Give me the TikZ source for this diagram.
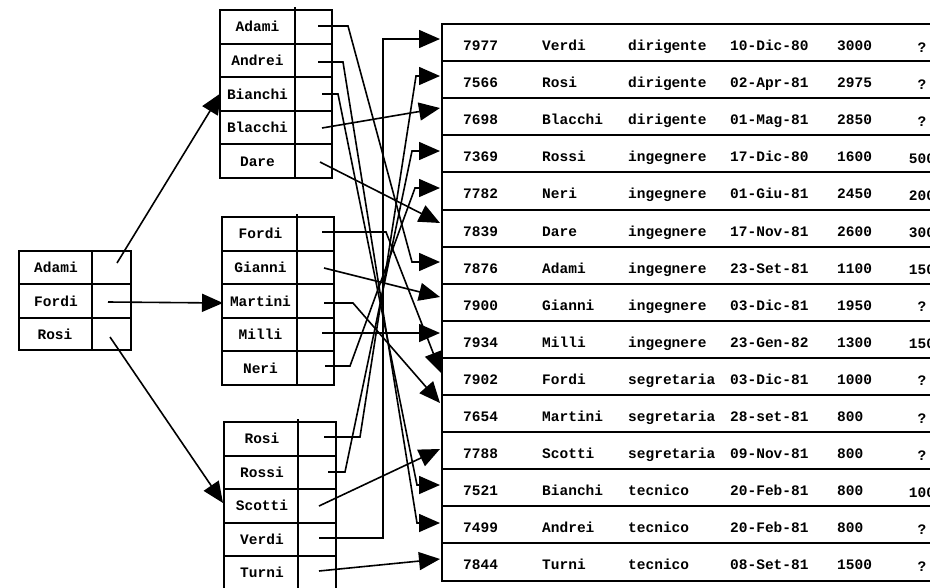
\documentclass[tikz,border=0pt]{standalone}
\usepackage{fontspec}
\setmainfont{Liberation Mono}
\usetikzlibrary{arrows.meta}
\begin{document}
\begin{tikzpicture}[x=1pt,y=-1pt,
  font=\fontsize{14.5}{17}\selectfont\bfseries,
  tbl/.style={line width=2pt},
  link/.style={line width=1.6pt,-{Triangle[length=21pt,width=18pt]}},
  txt/.style={anchor=base,inner sep=0pt},
  rtxt/.style={anchor=base west,inner sep=0pt}]
\clip (0,0) rectangle (930,587);
% ---------- left table ----------
\draw[tbl] (19,251) rectangle (131,350);
\draw[tbl] (92,251)--(92,350);
\draw[tbl] (19,284)--(131,284);
\draw[tbl] (19,318)--(131,318);
\node[txt] (L-Adami) at (56,272.5) {Adami};
\node[txt] (L-Fordi) at (56,306) {Fordi};
\node[txt] (L-Rosi)  at (55,339) {Rosi};
% ---------- middle table 1 ----------
\draw[tbl] (220,10) rectangle (332,178);
\draw[tbl] (295,7)--(295,178);
\foreach \i in {1,...,4} \draw[tbl] (220,{10+33.6*\i})--(332,{10+33.6*\i});
\foreach \n [count=\i from 0] in {Adami,Andrei,Bianchi,Blacchi,Dare}
  \node[txt] (A-\n) at (257.5,{10+33.6*\i+21.8}) {\n};
% ---------- middle table 2 ----------
\draw[tbl] (222,217) rectangle (334,385);
\draw[tbl] (297,214)--(297,385);
\foreach \i in {1,...,4} \draw[tbl] (222,{217+33.6*\i})--(334,{217+33.6*\i});
\foreach \n [count=\i from 0] in {Fordi,Gianni,Martini,Milli,Neri}
  \node[txt] (B-\n) at (260.5,{217+33.6*\i+21.8}) {\n};
% ---------- middle table 3 ----------
\draw[tbl] (224,422) rectangle (336,590);
\draw[tbl] (298,419)--(298,590);
\foreach \i in {1,...,4} \draw[tbl] (224,{422+33.5*\i})--(336,{422+33.5*\i});
\foreach \n [count=\i from 0] in {Rosi,Rossi,Scotti,Verdi,Turni}
  \node[txt] (C-\n) at (262,{422+33.5*\i+21.8}) {\n};
% ---------- main table ----------
\draw[tbl] (442,24) rectangle (980,{24+15*37.1});
\foreach \i in {1,...,14} \draw[tbl] (442,{24+37.1*\i})--(980,{24+37.1*\i});
\foreach \c/\nm/\j/\d/\s/\e [count=\i from 0] in {
  7977/Verdi/dirigente/10-Dic-80/3000/?,
  7566/Rosi/dirigente/02-Apr-81/2975/?,
  7698/Blacchi/dirigente/01-Mag-81/2850/?,
  7369/Rossi/ingegnere/17-Dic-80/1600/500,
  7782/Neri/ingegnere/01-Giu-81/2450/200,
  7839/Dare/ingegnere/17-Nov-81/2600/300,
  7876/Adami/ingegnere/23-Set-81/1100/150,
  7900/Gianni/ingegnere/03-Dic-81/1950/?,
  7934/Milli/ingegnere/23-Gen-82/1300/150,
  7902/Fordi/segretaria/03-Dic-81/1000/?,
  7654/Martini/segretaria/28-set-81/800/?,
  7788/Scotti/segretaria/09-Nov-81/800/?,
  7521/Bianchi/tecnico/20-Feb-81/800/100,
  7499/Andrei/tecnico/20-Feb-81/800/?,
  7844/Turni/tecnico/08-Set-81/1500/?}{
  \node[rtxt] (R\i-c) at (463,{24+37.1*\i+26.5}) {\c};
  \node[rtxt] (R\i-n) at (542,{24+37.1*\i+26.5}) {\nm};
  \node[rtxt] (R\i-j) at (628,{24+37.1*\i+26.5}) {\j};
  \node[rtxt] (R\i-d) at (730,{24+37.1*\i+26.5}) {\d};
  \node[rtxt] (R\i-s) at (837,{24+37.1*\i+26.5}) {\s};
  \node[txt]  (R\i-e) at (922,{24+37.1*\i+28}) {\e};
}
% ---------- pointer starts ----------
\coordinate (pL-Adami) at (117,263);
\coordinate (pL-Fordi) at (108,302);
\coordinate (pL-Rosi) at (110,337);
\coordinate (pA-Adami) at (318,26);
\coordinate (pA-Andrei) at (318,62);
\coordinate (pA-Bianchi) at (322,94);
\coordinate (pA-Blacchi) at (322,128);
\coordinate (pA-Dare) at (320,162);
\coordinate (pB-Fordi) at (322,232);
\coordinate (pB-Gianni) at (324,268);
\coordinate (pB-Martini) at (324,303);
\coordinate (pB-Milli) at (322,333);
\coordinate (pB-Neri) at (325,366);
\coordinate (pC-Rosi) at (324,437);
\coordinate (pC-Rossi) at (328,472);
\coordinate (pC-Scotti) at (319,506);
\coordinate (pC-Verdi) at (319,538);
\coordinate (pC-Turni) at (319,571);
% ---------- tips ----------
\coordinate (tA) at (221,93);
\coordinate (tB) at (223,303);
\coordinate (tC) at (223,503);
\coordinate (t1) at (440,39);
\coordinate (t2) at (440,76);
\coordinate (t3) at (440,108);
\coordinate (t4) at (440,151);
\coordinate (t5) at (440,188);
\coordinate (t6) at (440,223);
\coordinate (t7) at (440,262);
\coordinate (t8) at (440,297);
\coordinate (t9) at (440,333);
\coordinate (t10) at (441,373);
\coordinate (t11) at (440,403);
\coordinate (t12) at (440,449);
\coordinate (t13) at (440,485);
\coordinate (t14) at (440,523);
\coordinate (t15) at (440,559);
% ---------- connectors ----------
\draw[link] (pL-Adami)--(tA);
\draw[link] (pL-Fordi)--(tB);
\draw[link] (pL-Rosi)--(tC);
\draw[link] (pA-Adami)--(348,26)--(412,262)--(t7);
\draw[link] (pA-Andrei)--(343,62)--(417,523)--(t14);
\draw[link] (pA-Bianchi)--(338,94)--(417,485)--(t13);
\draw[link] (pA-Blacchi)--(t3);
\draw[link] (pA-Dare)--(t6);
\draw[link] (pB-Fordi)--(386,232)--(t10);
\draw[link] (pB-Gianni)--(t8);
\draw[link] (pB-Martini)--(353,303)--(t11);
\draw[link] (pB-Milli)--(t9);
\draw[link] (pB-Neri)--(350,366)--(415,188)--(t5);
\draw[link] (pC-Rosi)--(360,437)--(416,76)--(t2);
\draw[link] (pC-Rossi)--(345,472)--(412,151)--(t4);
\draw[link] (pC-Scotti)--(t12);
\draw[link] (pC-Verdi)--(383,538)--(383,39)--(t1);
\draw[link] (pC-Turni)--(t15);
\end{tikzpicture}
\end{document}
